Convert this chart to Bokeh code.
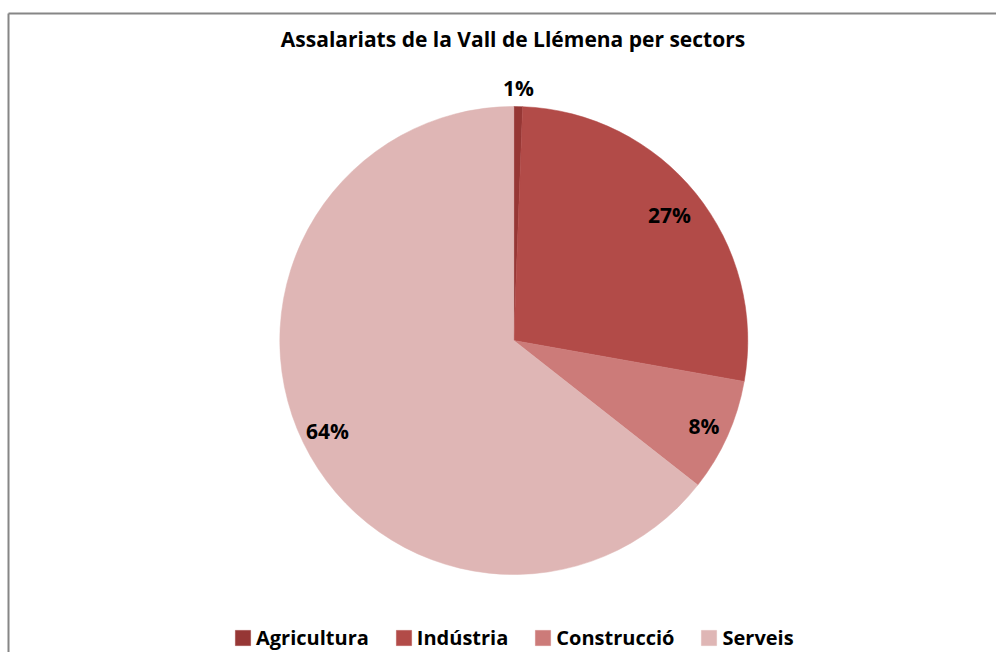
import math
from bokeh.plotting import figure
from bokeh.models import ColumnDataSource, Range1d, Legend, LegendItem
from bokeh.core.properties import value
from bokeh.embed import file_html
from bokeh.resources import INLINE

# ---- data ----
title_text = "Assalariats de la Vall de Llémena per sectors"
sectors = ["Agricultura", "Indústria", "Construcció", "Serveis"]
shares = [0.6, 27.2, 7.8, 64.4]
colors = ["#963735", "#B24B48", "#CC7B79", "#DFB6B5"]
label_radius_factor = [1.08, 0.855, 0.89, 0.885]

W, H = 996, 652
FONT = "Open Sans"

p = figure(width=W, height=H, output_backend="svg", toolbar_location=None,
           x_axis_type=None, y_axis_type=None, min_border=0,
           x_range=Range1d(0, W), y_range=Range1d(0, H))
p.outline_line_color = None
p.grid.visible = False
p.background_fill_color = "white"
p.border_fill_color = "white"

# chart area border (top and left visible)
p.multi_line(xs=[[8, 8], [8, W]], ys=[[0, 639], [639, 639]],
             line_color="#868686", line_width=2)

cx, cy, R = 513.3, 312, 234
total = sum(shares)
starts, ends, mids = [], [], []
cum = 0.0
for v in shares:
    a0 = math.pi / 2 - 2 * math.pi * cum / total
    cum += v
    a1 = math.pi / 2 - 2 * math.pi * cum / total
    starts.append(a0)
    ends.append(a1)
    mids.append((a0 + a1) / 2)

src = ColumnDataSource(dict(sector=sectors, start=starts, end=ends, color=colors,
                            x=[cx] * 4, y=[cy] * 4))
wr = p.wedge(x="x", y="y", radius=R, start_angle="start", end_angle="end",
             direction="clock", fill_color="color", line_color="color",
             line_width=0.5, source=src)

lx = [cx + R * f * math.cos(m) for m, f in zip(mids, label_radius_factor)]
ly = [cy + R * f * math.sin(m) for m, f in zip(mids, label_radius_factor)]
labels = [f"{round(v / total * 100)}%" for v in shares]
p.text(x=lx, y=ly, text=labels, text_font=value(FONT), text_font_style="bold",
       text_font_size="21px", text_align="center", text_baseline="middle",
       text_color="black")

# title
p.text(x=[512.5], y=[614], text=[title_text], text_font=value(FONT),
       text_font_style="bold", text_font_size="21px", text_align="center",
       text_baseline="middle", text_color="black")

items = [LegendItem(label=s, renderers=[wr], index=i) for i, s in enumerate(sectors)]
legend = Legend(items=items, orientation="horizontal", location=(233, 1),
                glyph_width=19, glyph_height=19, label_height=19,
                label_standoff=4, spacing=25, padding=0, margin=0,
                label_text_font=FONT, label_text_font_style="bold",
                label_text_font_size="20px", label_text_color="black",
                border_line_color=None, background_fill_alpha=0)
p.add_layout(legend, "center")

open("out.html", "w").write(file_html(p, INLINE))
